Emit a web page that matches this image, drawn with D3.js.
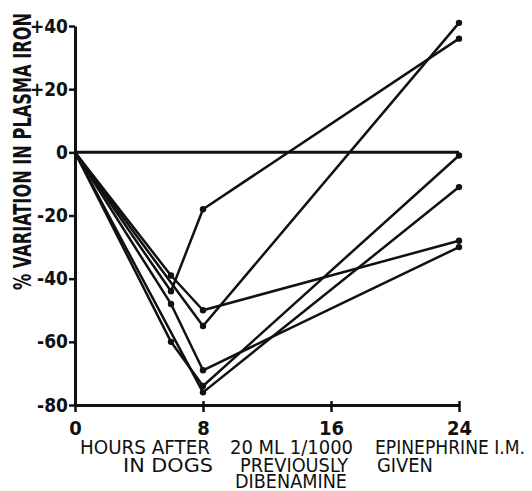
<!DOCTYPE html>
<html>
<head>
<meta charset="utf-8">
<script src="https://cdn.jsdelivr.net/npm/d3@7"></script>
<style>
  body { margin: 0; background: #fff; }
  svg text { font-family: "DejaVu Sans Condensed", "DejaVu Sans", sans-serif; fill: #111; }
</style>
</head>
<body>
<svg id="chart" width="532" height="491"></svg>
<script>
// hours after epinephrine; null = no reading at that time
const hours = [0, 6, 8, 24];
const dogA = [0, -44, -18, 36];
const dogB = [0, -39, -50, -28];
const dogC = [0, null, -55, 41];
const dogD = [0, -48, -69, -30];
const dogE = [0, -60, -74, -1];
const dogF = [0, null, -76, -11];
const baseline = [0, null, null, 0];

const xTicks = [0, 8, 16, 24];
const yTicks = [-80, -60, -40, -20, 0, 20, 40];
const yTitle = "% VARIATION IN PLASMA IRON";
// x title is set in three columns, each with up to three rows
const xTitleCols = [
  ["HOURS AFTER", "IN DOGS"],
  ["20 ML 1/1000", "PREVIOUSLY", "DIBENAMINE"],
  ["EPINEPHRINE I.M.", "GIVEN"]
];

const svg = d3.select("#chart");
const x = d3.scaleLinear().domain([0, 24]).range([75, 459]);
const y = d3.scaleLinear().domain([-80, 40]).range([405, 26]);

// axes
const yAxis = svg.append("g")
  .attr("transform", `translate(${x(0)},0)`)
  .call(d3.axisLeft(y).tickValues(yTicks).tickSize(6).tickSizeOuter(0).tickPadding(1)
    .tickFormat(d => d > 0 ? "+" + d : String(d)));
yAxis.select(".domain").attr("stroke", "#111").attr("stroke-width", 3);
yAxis.selectAll(".tick line").attr("stroke", "#111").attr("stroke-width", 2.5);
yAxis.selectAll(".tick text").attr("font-size", 19).attr("font-weight", "bold")
  .attr("fill", "#111").attr("font-family", "DejaVu Sans Condensed");

const xAxis = svg.append("g")
  .attr("transform", `translate(0,${y(-80)})`)
  .call(d3.axisBottom(x).tickValues(xTicks).tickSizeOuter(0));
xAxis.select(".domain").attr("stroke", "#111").attr("stroke-width", 3);
xAxis.selectAll(".tick line").attr("y1", -4).attr("y2", 7)
  .attr("stroke", "#111").attr("stroke-width", 2.5);
xAxis.selectAll(".tick text").attr("y", 30).attr("dy", 0)
  .attr("font-size", 20).attr("font-weight", "bold")
  .attr("fill", "#111").attr("font-family", "DejaVu Sans Condensed");

// titles
svg.append("text")
  .attr("transform", `translate(31,${(13 + 290) / 2}) rotate(-90)`)
  .attr("text-anchor", "middle")
  .attr("font-size", 24)
  .attr("font-weight", "bold")
  .attr("textLength", 277)
  .attr("lengthAdjust", "spacingAndGlyphs")
  .text(yTitle);

const colStart = [80, 230, 375];
const colWidths = [[130, 90], [123, 108, 112], [150, 56]];
const colIndent = [[0, 43], [0, 10, 5], [0, 2]];
const rowBase = [454, 472, 488];
xTitleCols.forEach((col, i) => {
  col.forEach((txt, j) => {
    svg.append("text")
      .attr("x", colStart[i] + colIndent[i][j])
      .attr("y", rowBase[j])
      .attr("font-size", 20)
      .attr("textLength", colWidths[i][j])
      .attr("lengthAdjust", "spacingAndGlyphs")
      .text(txt);
  });
});

// data lines
const line = d3.line().x(d => x(d.h)).y(d => y(d.v));
const allSeries = [dogA, dogB, dogC, dogD, dogE, dogF];

svg.append("path")
  .datum(hours.map((h, i) => ({ h, v: baseline[i] })).filter(d => d.v !== null))
  .attr("d", line)
  .attr("fill", "none").attr("stroke", "#111").attr("stroke-width", 3);

allSeries.forEach(s => {
  const pts = hours.map((h, i) => ({ h, v: s[i] })).filter(d => d.v !== null);
  svg.append("path")
    .datum(pts)
    .attr("d", line)
    .attr("fill", "none")
    .attr("stroke", "#111")
    .attr("stroke-width", 2.5)
    .attr("stroke-linejoin", "round");
  svg.selectAll(null)
    .data(pts.filter(d => d.h > 0))
    .enter().append("circle")
    .attr("cx", d => x(d.h))
    .attr("cy", d => y(d.v))
    .attr("r", 3.2)
    .attr("fill", "#111");
});
</script>
</body>
</html>
